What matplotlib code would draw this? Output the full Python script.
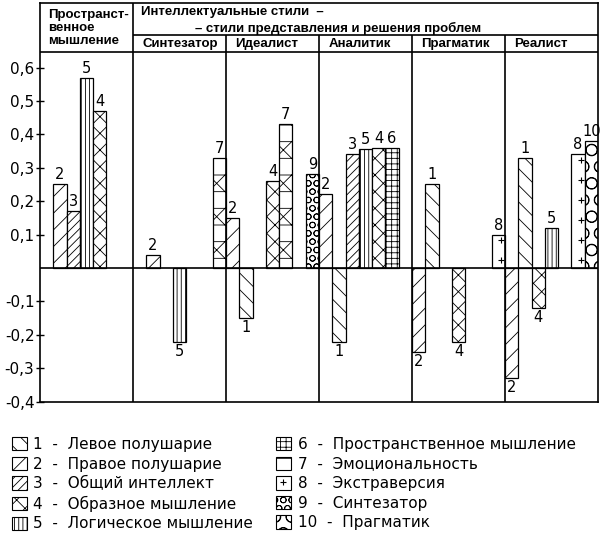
import matplotlib.pyplot as plt
from matplotlib.lines import Line2D
from matplotlib.patches import Patch

plt.rcParams["hatch.linewidth"] = 0.6

# Column groups of the chart
groups = ["Пространст-\nвенное\nмышление", "Синтезатор", "Идеалист",
          "Аналитик", "Прагматик", "Реалист"]

# Factors (legend)
factor_ids = [1, 2, 3, 4, 5, 6, 7, 8, 9, 10]
factor_names = ["Левое полушарие", "Правое полушарие", "Общий интеллект",
                "Образное мышление", "Логическое мышление",
                "Пространственное мышление", "Эмоциональность",
                "Экстраверсия", "Синтезатор", "Прагматик"]

# Bars: group index, place in group (of 7), factor id, correlation
bar_group = [0, 0, 0, 0,
             1, 1, 1,
             2, 2, 2, 2, 2,
             3, 3, 3, 3, 3, 3,
             4, 4, 4, 4,
             5, 5, 5, 5, 5, 5]
bar_slot = [1, 2, 3, 4,
            1, 3, 6,
            0, 1, 3, 4, 6,
            0, 1, 2, 3, 4, 5,
            0, 1, 3, 6,
            0, 1, 2, 3, 5, 6]
bar_factor = [2, 3, 5, 4,
              2, 5, 7,
              2, 1, 4, 7, 9,
              2, 1, 3, 5, 4, 6,
              2, 1, 4, 8,
              2, 1, 4, 5, 8, 10]
bar_value = [0.25, 0.17, 0.57, 0.47,
             0.04, -0.22, 0.33,
             0.15, -0.15, 0.26, 0.43, 0.28,
             0.22, -0.22, 0.34, 0.355, 0.36, 0.36,
             -0.25, 0.25, -0.22, 0.10,
             -0.33, 0.33, -0.12, 0.12, 0.34, 0.38]

yticks = [-0.4, -0.3, -0.2, -0.1, 0.1, 0.2, 0.3, 0.4, 0.5, 0.6]

hatches = {1: "\\\\", 2: "//", 3: "////", 4: "xx", 5: "||||",
           6: "+++", 7: "-x", 8: "", 9: "OO", 10: "O"}

n_slots = 7
w = 1.0 / n_slots
ymin, ytop = -0.4, 0.793

fig = plt.figure(figsize=(6, 5.34), dpi=100)
ax = fig.add_axes([40 / 600, 1 - 401.7 / 534, 558 / 600, 398.7 / 534])
ax.set_xlim(0, len(groups))
ax.set_ylim(ymin, ytop)

for g, s, f, v in zip(bar_group, bar_slot, bar_factor, bar_value):
    x0 = g + s * w
    ax.bar(x0, v, width=w, align="edge", facecolor="white",
           edgecolor="black", linewidth=0.9, hatch=hatches[f], zorder=2)
    if f == 8:
        ys = [0.024 + 0.06 * k for k in range(10) if 0.024 + 0.06 * k < v - 0.005]
        ax.plot([x0 + 0.7 * w] * len(ys), ys, ls="none", marker="+",
                color="black", ms=4, mew=0.8, zorder=3)
    if v > 0:
        ax.text(x0 + w / 2, v + 0.006, str(f), ha="center", va="bottom",
                fontsize=10.5)
    else:
        ax.text(x0 + w / 2, v - 0.006, str(f), ha="center", va="top",
                fontsize=10.5)

# frame, zero line, separators and header
lw = 1.2
ax.axhline(0, color="black", lw=lw, zorder=4)
ax.vlines(1, ymin, ytop, color="black", lw=lw)
ax.vlines(range(2, len(groups)), ymin, 0.697, color="black", lw=lw)
ax.hlines(0.646, 0, len(groups), color="black", lw=lw)
ax.hlines(0.697, 1, len(groups), color="black", lw=lw)
for sp in ax.spines.values():
    sp.set_linewidth(lw)

hfont = dict(family="Liberation Sans", weight="bold", fontsize=9.5, va="center")
ax.text(0.086, 0.718, groups[0], linespacing=1.15, **hfont)
ax.text(1.086, 0.766, "Интеллектуальные стили  –", **hfont)
ax.text(1.667, 0.718, "– стили представления и решения проблем", **hfont)
for i in range(1, len(groups)):
    ax.text(i + 0.1, 0.670, groups[i], **hfont)

ax.set_xticks([])
ax.set_yticks(yticks)
ax.set_yticklabels([f"{t:.1f}".replace(".", ",") for t in yticks])
ax.tick_params(axis="y", direction="inout", length=6, width=1, pad=1,
               labelsize=11)

# legend
handles = []
for f in factor_ids:
    p = Patch(facecolor="white", edgecolor="black", hatch=hatches[f], lw=0.8)
    if f == 8:
        handles.append((p, Line2D([], [], ls="none", marker="+",
                                  color="black", ms=4, mew=0.8)))
    else:
        handles.append(p)
labels = [f"{i}  -  {n}" for i, n in zip(factor_ids, factor_names)]
fig.legend(handles, labels, ncol=2, loc="upper left",
           bbox_to_anchor=(12 / 600, 1 - 437 / 534), frameon=False,
           fontsize=11, handlelength=0.95, handleheight=0.95,
           handletextpad=0.45, labelspacing=0.3, columnspacing=1.5,
           borderaxespad=0, borderpad=0)

fig.savefig("out.png", dpi=100)
